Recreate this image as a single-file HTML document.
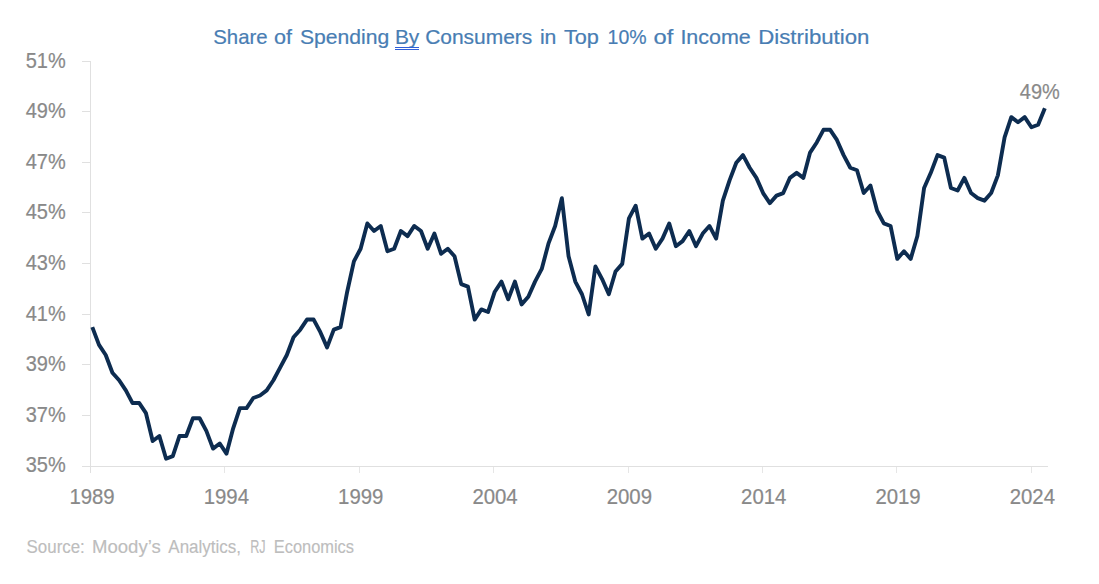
<!DOCTYPE html>
<html lang="en"><head><meta charset="utf-8"><title>Share of Spending By Consumers in Top 10% of Income Distribution</title>
<style>html,body{margin:0;padding:0;background:#fff;}svg{display:block}</style></head>
<body>
<svg width="1099" height="584" viewBox="0 0 1099 584">
<rect width="1099" height="584" fill="#ffffff"/>
<g stroke="#e0e0e0" stroke-width="1" fill="none" shape-rendering="crispEdges">
<line x1="90.5" y1="61" x2="90.5" y2="473"/>
<line x1="82" y1="466.5" x2="1048" y2="466.5"/>
<line x1="82" y1="61.5" x2="90.5" y2="61.5"/>
<line x1="82" y1="111.5" x2="90.5" y2="111.5"/>
<line x1="82" y1="162.5" x2="90.5" y2="162.5"/>
<line x1="82" y1="212.5" x2="90.5" y2="212.5"/>
<line x1="82" y1="263.5" x2="90.5" y2="263.5"/>
<line x1="82" y1="314.5" x2="90.5" y2="314.5"/>
<line x1="82" y1="364.5" x2="90.5" y2="364.5"/>
<line x1="82" y1="415.5" x2="90.5" y2="415.5"/>
<line x1="224.5" y1="467" x2="224.5" y2="473" stroke="#e6e6e6"/>
<line x1="359.5" y1="467" x2="359.5" y2="473" stroke="#e6e6e6"/>
<line x1="493.5" y1="467" x2="493.5" y2="473" stroke="#e6e6e6"/>
<line x1="628.5" y1="467" x2="628.5" y2="473" stroke="#e6e6e6"/>
<line x1="762.5" y1="467" x2="762.5" y2="473" stroke="#e6e6e6"/>
<line x1="896.5" y1="467" x2="896.5" y2="473" stroke="#e6e6e6"/>
<line x1="1031.5" y1="467" x2="1031.5" y2="473" stroke="#e6e6e6"/>
</g>
<g font-family="'Liberation Sans', sans-serif" font-size="21.5" fill="#898989" stroke="#898989" stroke-width="0.2">
<text x="25.7" y="67.6" textLength="40" lengthAdjust="spacingAndGlyphs">51%</text>
<text x="25.7" y="118.2" textLength="40" lengthAdjust="spacingAndGlyphs">49%</text>
<text x="25.7" y="168.8" textLength="40" lengthAdjust="spacingAndGlyphs">47%</text>
<text x="25.7" y="219.4" textLength="40" lengthAdjust="spacingAndGlyphs">45%</text>
<text x="25.7" y="270.0" textLength="40" lengthAdjust="spacingAndGlyphs">43%</text>
<text x="25.7" y="320.6" textLength="40" lengthAdjust="spacingAndGlyphs">41%</text>
<text x="25.7" y="371.2" textLength="40" lengthAdjust="spacingAndGlyphs">39%</text>
<text x="25.7" y="421.8" textLength="40" lengthAdjust="spacingAndGlyphs">37%</text>
<text x="25.7" y="472.4" textLength="40" lengthAdjust="spacingAndGlyphs">35%</text>
<text x="69.4" y="504.3" textLength="45.3" lengthAdjust="spacingAndGlyphs">1989</text>
<text x="203.7" y="504.3" textLength="45.3" lengthAdjust="spacingAndGlyphs">1994</text>
<text x="338.1" y="504.3" textLength="45.3" lengthAdjust="spacingAndGlyphs">1999</text>
<text x="472.4" y="504.3" textLength="45.3" lengthAdjust="spacingAndGlyphs">2004</text>
<text x="606.7" y="504.3" textLength="45.3" lengthAdjust="spacingAndGlyphs">2009</text>
<text x="741.1" y="504.3" textLength="45.3" lengthAdjust="spacingAndGlyphs">2014</text>
<text x="875.4" y="504.3" textLength="45.3" lengthAdjust="spacingAndGlyphs">2019</text>
<text x="1009.7" y="504.3" textLength="45.3" lengthAdjust="spacingAndGlyphs">2024</text>
<text x="1019.8" y="99" textLength="40" lengthAdjust="spacingAndGlyphs">49%</text>
</g>
<g font-family="'Liberation Sans', sans-serif" font-size="20.4" fill="#487db3" stroke="#487db3" stroke-width="0.2">
<text y="43.5"><tspan x="213.3" textLength="54.3" lengthAdjust="spacingAndGlyphs">Share</tspan> <tspan x="274.0" textLength="18.0" lengthAdjust="spacingAndGlyphs">of</tspan> <tspan x="300.0" textLength="89.3" lengthAdjust="spacingAndGlyphs">Spending</tspan> <tspan x="394.9" textLength="24.4" lengthAdjust="spacingAndGlyphs">By</tspan> <tspan x="425.2" textLength="107.1" lengthAdjust="spacingAndGlyphs">Consumers</tspan> <tspan x="539.9" textLength="16.5" lengthAdjust="spacingAndGlyphs">in</tspan> <tspan x="563.9" textLength="35.0" lengthAdjust="spacingAndGlyphs">Top</tspan> <tspan x="607.6" textLength="39.0" lengthAdjust="spacingAndGlyphs">10%</tspan> <tspan x="653.5" textLength="19.8" lengthAdjust="spacingAndGlyphs">of</tspan> <tspan x="680.4" textLength="70.4" lengthAdjust="spacingAndGlyphs">Income</tspan> <tspan x="758.3" textLength="111.1" lengthAdjust="spacingAndGlyphs">Distribution</tspan></text>
</g>
<g stroke="#2f5fd8" stroke-width="1" shape-rendering="crispEdges"><line x1="395" y1="47.5" x2="419" y2="47.5"/><line x1="395" y1="49.5" x2="419" y2="49.5"/></g>
<g font-family="'Liberation Sans', sans-serif" font-size="18" fill="#bdbdbd" stroke="#bdbdbd" stroke-width="0.15">
<text y="553.3"><tspan x="26.6" textLength="58.2" lengthAdjust="spacingAndGlyphs">Source:</tspan> <tspan x="92" textLength="68.8" lengthAdjust="spacingAndGlyphs">Moody’s</tspan> <tspan x="168.3" textLength="72.7" lengthAdjust="spacingAndGlyphs">Analytics,</tspan> <tspan x="250.2" textLength="15.4" lengthAdjust="spacingAndGlyphs">RJ</tspan> <tspan x="273.8" textLength="80.2" lengthAdjust="spacingAndGlyphs">Economics</tspan></text>
</g>
<polyline points="92.30,327.15 99.01,344.86 105.72,354.98 112.42,372.69 119.13,380.28 125.84,390.40 132.55,403.05 139.26,403.05 145.96,413.17 152.67,441.00 159.38,435.94 166.09,458.71 172.80,456.18 179.50,435.94 186.21,435.94 192.92,418.23 199.63,418.23 206.34,430.88 213.04,448.59 219.75,443.53 226.46,453.65 233.17,428.35 239.88,408.11 246.58,408.11 253.29,397.99 260.00,395.46 266.71,390.40 273.42,380.28 280.12,367.63 286.83,354.98 293.54,337.27 300.25,329.68 306.96,319.56 313.66,319.56 320.37,332.21 327.08,347.39 333.79,329.68 340.50,327.15 347.20,291.73 353.91,261.37 360.62,248.72 367.33,223.42 374.04,231.01 380.74,225.95 387.45,251.25 394.16,248.72 400.87,231.01 407.58,236.07 414.28,225.95 420.99,231.01 427.70,248.72 434.41,233.54 441.12,253.78 447.82,248.72 454.53,256.31 461.24,284.14 467.95,286.67 474.66,319.56 481.36,309.44 488.07,311.97 494.78,291.73 501.49,281.61 508.20,299.32 514.90,281.61 521.61,304.38 528.32,296.79 535.03,281.61 541.74,268.96 548.44,243.66 555.15,225.95 561.86,198.12 568.57,256.31 575.28,281.61 581.98,294.26 588.69,314.50 595.40,266.43 602.11,279.08 608.82,294.26 615.52,271.49 622.23,263.90 628.94,218.36 635.65,205.71 642.36,238.60 649.06,233.54 655.77,248.72 662.48,238.60 669.19,223.42 675.90,246.19 682.60,241.13 689.31,231.01 696.02,246.19 702.73,233.54 709.44,225.95 716.14,238.60 722.85,200.65 729.56,180.41 736.27,162.70 742.98,155.11 749.68,167.76 756.39,177.88 763.10,193.06 769.81,203.18 776.52,195.59 783.22,193.06 789.93,177.88 796.64,172.82 803.35,177.88 810.06,152.58 816.76,142.46 823.47,129.81 830.18,129.81 836.89,139.93 843.60,155.11 850.30,167.76 857.01,170.29 863.72,193.06 870.43,185.47 877.14,210.77 883.84,223.42 890.55,225.95 897.26,258.84 903.97,251.25 910.68,258.84 917.38,236.07 924.09,188.00 930.80,172.82 937.51,155.11 944.22,157.64 950.92,188.00 957.63,190.53 964.34,177.88 971.05,193.06 977.76,198.12 984.46,200.65 991.17,193.06 997.88,175.35 1004.59,137.40 1011.30,117.16 1018.00,122.22 1024.71,117.16 1031.42,127.28 1038.13,124.75 1044.84,108.31" fill="none" stroke="#0d2c50" stroke-width="3.9" stroke-linejoin="round" stroke-linecap="butt"/>
</svg>
</body></html>
